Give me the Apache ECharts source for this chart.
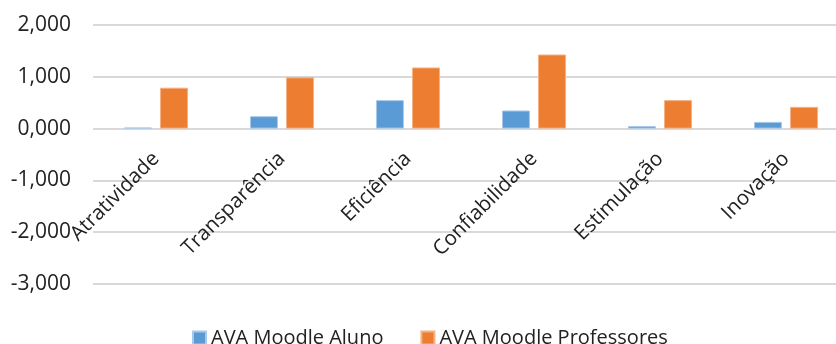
<!DOCTYPE html>
<html>
<head>
<meta charset="utf-8">
<script src="https://cdn.jsdelivr.net/npm/echarts@6/dist/echarts.min.js"></script>
<style>
  html, body { margin: 0; padding: 0; background: #fff; }
  #chart { width: 836px; height: 344px; }
</style>
</head>
<body>
<div id="chart"></div>
<script>
// UEQ scale means per dimension, for students and teachers
const categories = ['Atratividade', 'Transparência', 'Eficiência', 'Confiabilidade', 'Estimulação', 'Inovação'];
const seriesNames = ['AVA Moodle Aluno', 'AVA Moodle Professores'];
const alunoValues = [0.02, 0.24, 0.55, 0.35, 0.05, 0.13];
const professoresValues = [0.79, 0.99, 1.18, 1.43, 0.55, 0.42];
const yTicks = { min: -3, max: 2, interval: 1 };

const FONT = '"Open Sans", "Noto Sans", sans-serif';
const TEXT = '#222222';
const GRID = '#d9d9d9';

const W = 836, H = 344;
const G = { left: 93, right: -13, top: 25, bottom: 60 };
// lift the category axis from the bottom of the plot up to the zero line
const plotH = H - G.top - G.bottom;
const zeroLift = plotH * (0 - yTicks.min) / (yTicks.max - yTicks.min);

const chart = echarts.init(document.getElementById('chart'), null, { renderer: 'canvas' });

chart.setOption({
  animation: false,
  backgroundColor: '#ffffff',
  textStyle: { fontFamily: FONT },
  grid: Object.assign({ containLabel: false, outerBoundsMode: 'none' }, G),
  legend: {
    data: seriesNames,
    left: 187,
    top: 323,
    itemWidth: 13,
    itemHeight: 13,
    itemGap: 37,
    icon: 'rect',
    textStyle: { fontFamily: FONT, fontSize: 20, color: TEXT }
  },
  xAxis: {
    type: 'category',
    data: categories,
    position: 'bottom',
    offset: -zeroLift,
    axisLine: { show: false, onZero: false },
    axisTick: { show: false },
    axisLabel: {
      rotate: 45,
      margin: 27,
      interval: 0,
      fontFamily: FONT,
      fontSize: 20.5,
      color: TEXT
    }
  },
  yAxis: {
    type: 'value',
    min: yTicks.min,
    max: yTicks.max,
    interval: yTicks.interval,
    axisLine: { show: false },
    axisTick: { show: false },
    splitLine: { lineStyle: { color: GRID, width: 2 } },
    axisLabel: {
      margin: 22,
      fontFamily: FONT,
      fontSize: 21,
      color: TEXT,
      formatter: v => v.toFixed(3).replace('.', ',')
    }
  },
  series: [
    {
      name: seriesNames[0],
      type: 'bar',
      data: alunoValues,
      barWidth: 28,
      barGap: '29%',
      itemStyle: { color: '#5b9bd5', borderColor: '#a9c9ea', borderWidth: 1 }
    },
    {
      name: seriesNames[1],
      type: 'bar',
      data: professoresValues,
      barWidth: 28,
      barGap: '29%',
      itemStyle: { color: '#ed7d31', borderColor: '#f4b183', borderWidth: 1 }
    }
  ]
});
</script>
</body>
</html>
